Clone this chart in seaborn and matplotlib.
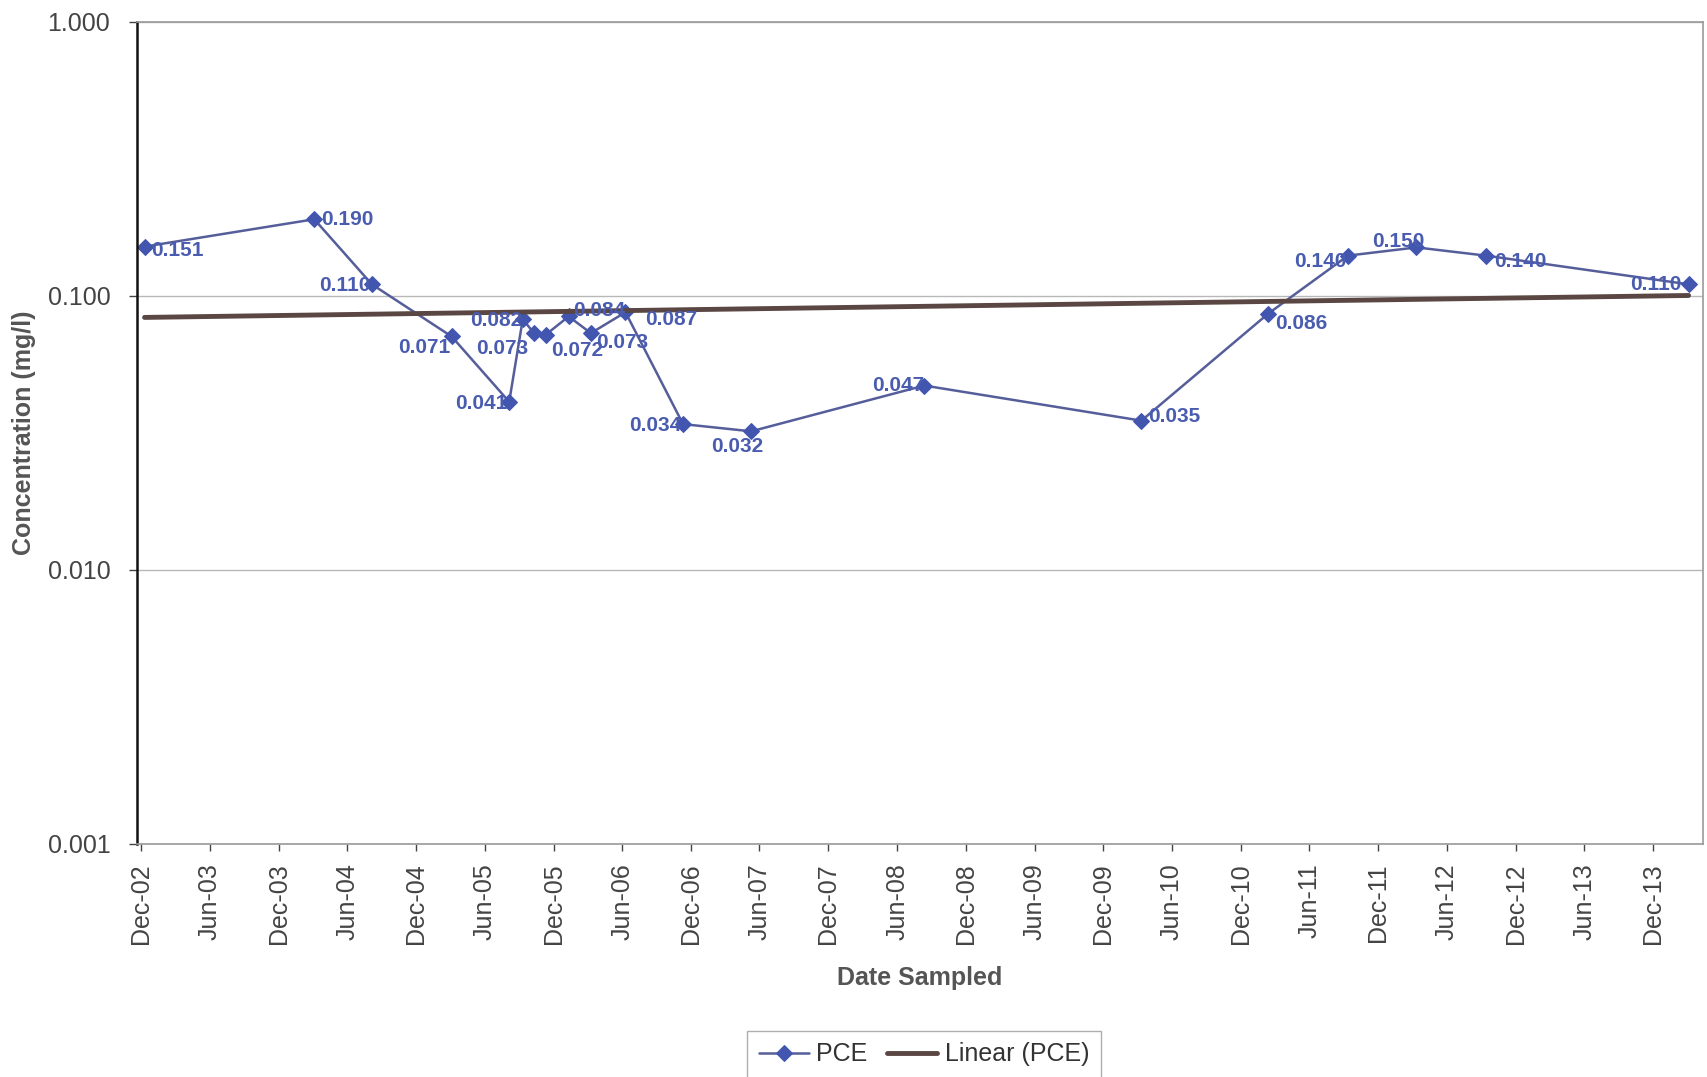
import numpy as np
import pandas as pd
import matplotlib
matplotlib.use("Agg")
import matplotlib.pyplot as plt
import matplotlib.dates as mdates
from matplotlib.ticker import FixedLocator, FuncFormatter
import seaborn as sns

# PCE sampling results
sample_dates = [
    "2002-12-10", "2004-03-05", "2004-08-05", "2005-03-05", "2005-08-05",
    "2005-09-10", "2005-10-10", "2005-11-10", "2006-01-10", "2006-03-10",
    "2006-06-10", "2006-11-10", "2007-05-10", "2008-08-12", "2010-03-12",
    "2011-02-12", "2011-09-12", "2012-03-12", "2012-09-12", "2014-03-05",
]
pce_values = [
    0.151, 0.190, 0.110, 0.071, 0.041,
    0.082, 0.073, 0.072, 0.084, 0.073,
    0.087, 0.034, 0.032, 0.047, 0.035,
    0.086, 0.140, 0.150, 0.140, 0.110,
]
y_ticks = [0.001, 0.010, 0.100, 1.000]

# label placement (offset in points, horizontal alignment)
label_offsets = [
    (5, -3, "left"), (5, 0, "left"), (-1, -1, "right"), (-1, -8, "right"), (-1, -1, "right"),
    (0, -1, "right"), (-4, -11, "right"), (4, -11, "left"), (3, 4, "left"), (4, -7, "left"),
    (14, -5, "left"), (-1, -1, "right"), (-10, -11, "center"), (0, 0, "right"), (5, 3, "left"),
    (5, -7, "left"), (-1, -4, "right"), (-13, 4, "center"), (6, -4, "left"), (-5, 0, "right"),
]

df = pd.DataFrame({"date": pd.to_datetime(sample_dates), "pce": pce_values})

# Linear (PCE) trend: least-squares fit of concentration against date
xnum = mdates.date2num(df["date"])
slope, intercept = np.polyfit(xnum, df["pce"], 1)
trend = pd.DataFrame({"date": df["date"].iloc[[0, -1]].values,
                      "pce": slope * xnum[[0, -1]] + intercept})

sns.set_style("white")
plt.rcParams["font.family"] = ["Liberation Sans", "DejaVu Sans"]

fig = plt.figure(figsize=(17.08, 10.77), dpi=100)
ax = fig.add_axes([0.080, 0.2164, 0.917, 0.7636])

line_col = "#555e9a"
mark_col = "#4256b0"
label_col = "#4a5cb0"

sns.lineplot(data=df, x="date", y="pce", ax=ax, color=line_col, lw=1.8,
             marker="D", markersize=8, markerfacecolor=mark_col,
             markeredgecolor=mark_col, label="PCE", legend=False)
sns.lineplot(data=trend, x="date", y="pce", ax=ax, color="#5a4642", lw=3.5,
             label="Linear (PCE)", legend=False)

for d, v, (dx, dy, ha) in zip(df["date"], df["pce"], label_offsets):
    ax.annotate(f"{v:.3f}", (d, v), xytext=(dx, dy), textcoords="offset points",
                ha=ha, va="center", fontsize=15, fontweight="bold", color=label_col)

ax.set_yscale("log")
ax.set_ylim(0.001, 1.0)
ax.yaxis.set_major_locator(FixedLocator(y_ticks))
ax.yaxis.set_minor_locator(FixedLocator([]))
ax.yaxis.set_major_formatter(FuncFormatter(lambda v, p: f"{v:.3f}"))
ax.grid(axis="y", color="#b8b8b8", lw=1)

ax.set_xlim(pd.Timestamp("2002-11-19"), pd.Timestamp("2014-04-12"))
ax.xaxis.set_major_locator(mdates.MonthLocator(bymonth=[6, 12]))
ax.xaxis.set_major_formatter(mdates.DateFormatter("%b-%y"))
plt.setp(ax.get_xticklabels(), rotation=90, ha="center")

ax.tick_params(axis="x", labelsize=18, colors="#444444", length=5, width=1,
               direction="out", bottom=True, pad=9)
ax.tick_params(axis="y", labelsize=18, colors="#444444", length=6, width=1,
               direction="out", left=True, pad=13)
for s in ["top", "right", "bottom"]:
    ax.spines[s].set_color("#9a9a9a")
    ax.spines[s].set_linewidth(1.2)
ax.spines["left"].set_color("#111111")
ax.spines["left"].set_linewidth(1.8)

ax.set_xlabel("Date Sampled", fontsize=18, fontweight="bold", color="#555555", labelpad=16)
ax.set_ylabel("Concentration (mg/l)", fontsize=18, fontweight="bold", color="#555555", labelpad=8)

handles, labels = ax.get_legend_handles_labels()
leg = fig.legend(handles, labels, loc="upper center", bbox_to_anchor=(0.541, 0.0427),
                 ncol=2, frameon=True, fontsize=18, handlelength=2.0, columnspacing=0.8,
                 handletextpad=0.3, borderpad=0.45, borderaxespad=0, fancybox=False)
leg.get_frame().set_edgecolor("#9a9a9a")
for t in leg.get_texts():
    t.set_color("#333333")

fig.savefig("out.png", dpi=100)
